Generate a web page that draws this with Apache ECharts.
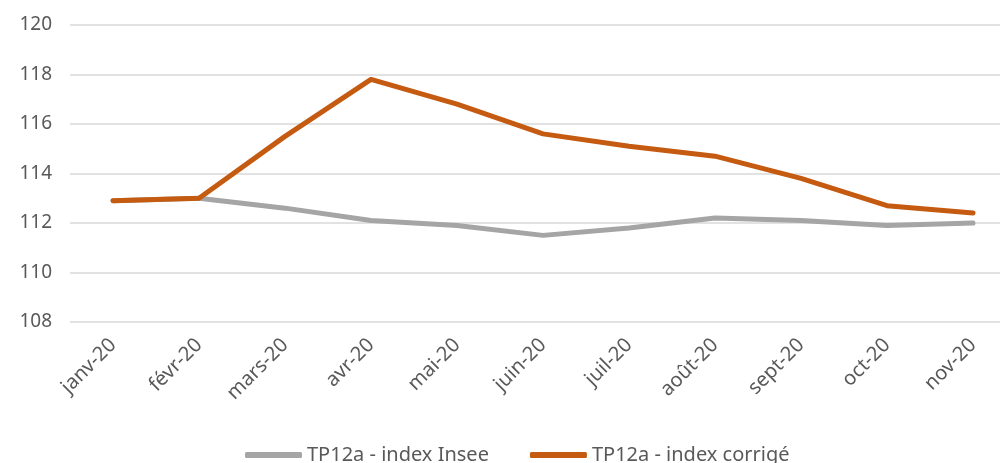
<!DOCTYPE html>
<html>
<head>
<meta charset="utf-8">
<script src="https://cdn.jsdelivr.net/npm/echarts@6/dist/echarts.min.js"></script>
<style>html,body{margin:0;padding:0;background:#fff}#c{width:1000px;height:463px}</style>
</head>
<body>
<div id="c"></div>
<script>
const categories = ['janv-20','févr-20','mars-20','avr-20','mai-20','juin-20','juil-20','août-20','sept-20','oct-20','nov-20'];
const inseeValues = [112.9, 113.0, 112.6, 112.1, 111.9, 111.5, 111.8, 112.2, 112.1, 111.9, 112.0];
const corrigeValues = [112.9, 113.0, 115.5, 117.8, 116.8, 115.6, 115.1, 114.7, 113.8, 112.7, 112.4];
const seriesNames = ['TP12a - index Insee', 'TP12a - index corrigé'];

const chart = echarts.init(document.getElementById('c'));
const font = '"Noto Sans", sans-serif';
chart.setOption({
  animation: false,
  grid: { left: 70, width: 946, top: 25, bottom: 141, containLabel: false, outerBoundsMode: 'none' },
  legend: {
    top: 445, left: 245, padding: 0,
    itemWidth: 57, itemHeight: 6, itemGap: 41,
    icon: 'roundRect',
    textStyle: { color: '#595959', fontSize: 20, fontFamily: font },
    data: seriesNames
  },
  xAxis: {
    type: 'category', data: categories, boundaryGap: true,
    axisLine: { show: false }, axisTick: { show: false },
    axisLabel: { rotate: 45, color: '#595959', fontSize: 20, fontFamily: font, margin: 20 }
  },
  yAxis: {
    type: 'value', min: 108, max: 120, interval: 2,
    axisLine: { show: false }, axisTick: { show: false },
    axisLabel: { color: '#595959', fontSize: 19, fontFamily: font, margin: 18 },
    splitLine: { lineStyle: { color: '#D9D9D9', width: 1.5 } }
  },
  series: [
    { name: seriesNames[0], type: 'line', data: inseeValues, symbol: 'none',
      lineStyle: { color: '#A5A5A5', width: 5, cap: 'round', join: 'round' }, itemStyle: { color: '#A5A5A5' } },
    { name: seriesNames[1], type: 'line', data: corrigeValues, symbol: 'none',
      lineStyle: { color: '#C55A11', width: 5, cap: 'round', join: 'round' }, itemStyle: { color: '#C55A11' } }
  ]
});
</script>
</body>
</html>
